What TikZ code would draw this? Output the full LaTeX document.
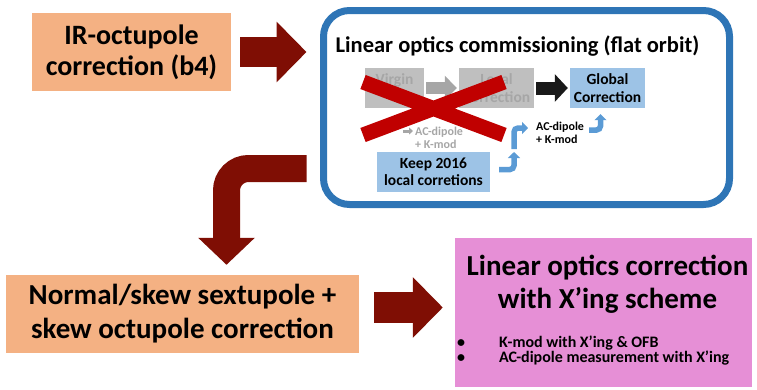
\documentclass[tikz,border=0pt]{standalone}
\usepackage{fontspec}
\setmainfont{Carlito}
\usetikzlibrary{arrows.meta, positioning, calc}
\definecolor{Salmon}{RGB}{244,177,131}
\definecolor{PaleBlue}{RGB}{157,195,230}
\definecolor{FrameBlue}{RGB}{46,117,182}
\definecolor{BendBlue}{RGB}{91,155,213}
\definecolor{BoxGray}{RGB}{191,191,191}
\definecolor{TextGray}{RGB}{166,166,166}
\definecolor{CrossRed}{RGB}{192,0,0}
\definecolor{DarkRed}{RGB}{127,14,4}
\definecolor{Orchid}{RGB}{230,143,214}
\newcommand{\tightlines}{\lineskiplimit-10pt\relax}

\begin{document}
\begin{tikzpicture}[x=1pt, y=-1pt,
    bigbox/.style={rectangle, fill=Salmon, align=center, minimum height=78, font=\bfseries\fontsize{28}{31}\selectfont},
    smallbox/.style={rectangle, align=center, minimum height=40, font=\bfseries\fontsize{15.5}{17.5}\selectfont},
    graybox/.style={smallbox, fill=BoxGray, text=TextGray},
    bluebox/.style={smallbox, fill=PaleBlue},
    aclabel/.style={align=left, inner sep=0, font=\bfseries\fontsize{12}{12.7}\selectfont},
    redarrow/.style={DarkRed},
    grayarrow/.style={TextGray, line width=12, shorten <=2pt, shorten >=2pt, -{Triangle[width=24pt,length=12pt]}},
    blackarrow/.style={black!90, line width=13, shorten <=2pt, shorten >=2pt, -{Triangle[width=27pt,length=13pt]}},
    bluebent/.style={BendBlue, line width=5.5, rounded corners=4, -{Triangle[width=12pt,length=6pt]}}]
\useasboundingbox (0,0) rectangle (757,389);

% main steps
\node[bigbox, minimum width=199] (ir) at (131.5,52) {IR-octupole\\correction (b4)};
\node[bigbox, minimum width=353, font=\bfseries\fontsize{29}{34}\selectfont] (normal) at (182.5,314) {Normal/skew sextupole +\\skew octupole correction};
\node[draw=FrameBlue, line width=7, rounded corners=26, minimum width=406, minimum height=194] (comm) at (526.5,107.5) {};
\node[fill=Orchid, minimum width=297, minimum height=149] (xbox) at (603.5,312.5) {};

% commissioning box content
\node[anchor=base, font=\bfseries\fontsize{22.5}{27}\selectfont] (commtitle) at (517.5,52) {Linear optics commissioning (flat orbit)};
\node[graybox, minimum width=59] (virgin) at (394.5,88) {Virgin\\\mbox{}};
\node[graybox, minimum width=75] (local) at (496.5,88) {Local\\Correction};
\node[bluebox, minimum width=75] (global) at (607.5,88) {Global\\Correction};
\node[bluebox, minimum width=113] (keep) at (433.5,172) {Keep 2016\\local corretions};
\node[aclabel, text=TextGray, anchor=west] (acgray) at (415,138) {AC-dipole\\+ K-mod};
\node[aclabel, anchor=west] (acblack) at (536,133) {AC-dipole\\+ K-mod};
\coordinate (bendA) at (514,152);
\coordinate (bendB) at (514,149);

\draw[grayarrow] (virgin) -- (local);
\draw[blackarrow] (local) -- (global);
\draw[TextGray, line width=3, -{Triangle[width=7pt,length=4pt]}] ([xshift=-12pt,yshift=7pt]acgray.west) -- ([xshift=-2pt,yshift=7pt]acgray.west);

% crossed out
\draw[CrossRed, line width=15] (363,82) -- (504,135) (363,135) -- (504,82);

\draw[bluebent] ([xshift=9pt,yshift=2.5pt]keep.east) -| (bendA);
\draw[bluebent] (bendB) |- ([xshift=-8pt,yshift=5pt]acblack.west);
\draw[bluebent] ([xshift=5pt,yshift=3pt]acblack.east) -| ([xshift=-7pt,yshift=-6pt]global.south);

% crossing scheme box
\node[align=center, font=\bfseries\fontsize{29}{33}\selectfont] (xtitle) at (607.5,284) {Linear optics correction\\with X’ing scheme};
\node[anchor=north west, inner sep=0, align=left, font={\bfseries\fontsize{16}{15}\selectfont\tightlines}] (xlist) at (457,336)
  {\makebox[42pt][l]{\textbullet}K-mod with X’ing \& OFB\\\makebox[42pt][l]{\textbullet}AC-dipole measurement with X’ing};

% flow
\draw[redarrow, line width=30, shorten <=9pt, shorten >=13.5pt, -{Triangle[width=59pt,length=30pt]}] (ir.east) -- (ir.east -| comm.west);
\draw[redarrow, line width=27, rounded corners=22, -{Triangle[width=55pt,length=27pt]}] ([xshift=-13.5pt,yshift=-61pt]comm.west) -| ([xshift=44pt,yshift=10pt]normal.north);
\draw[redarrow, line width=31, shorten <=15pt, shorten >=12pt, -{Triangle[width=59pt,length=30pt]}] ([yshift=6.5pt]normal.east) -- ([yshift=6.5pt]normal.east -| xbox.west);
\end{tikzpicture}
\end{document}
